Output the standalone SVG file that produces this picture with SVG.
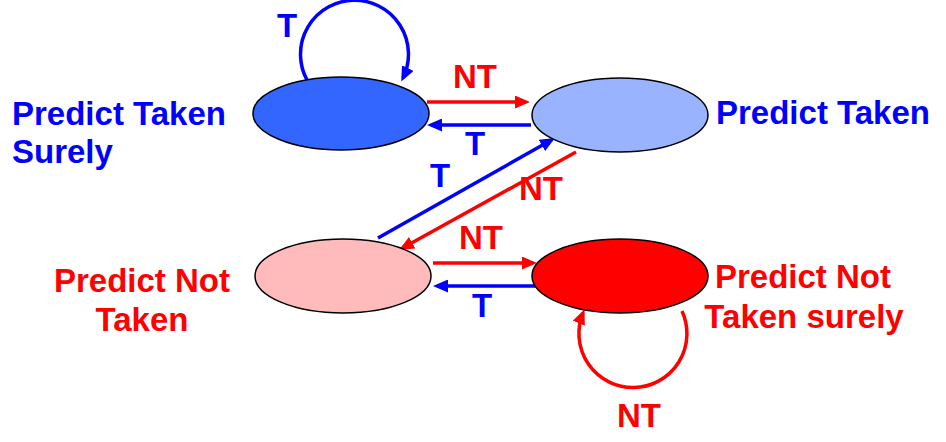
<svg xmlns="http://www.w3.org/2000/svg" width="946" height="442" viewBox="0 0 946 442">
<style>
  text { font-family: "Liberation Sans", Arial, sans-serif; font-weight: bold; font-size: 33px; }
  .blue { fill: #0000FF; }
  .red { fill: #FF0000; }
  .node { stroke: #000000; stroke-width: 1.5; }
  .eb { fill: none; stroke: #0000FF; stroke-width: 3.5; }
  .er { fill: none; stroke: #FF0000; stroke-width: 3.5; }
  .mid { text-anchor: middle; }
</style>
<defs>
  <marker id="ab" markerUnits="userSpaceOnUse" markerWidth="15" markerHeight="13" viewBox="0 0 15 13" refX="11" refY="6.5" orient="auto">
    <path d="M0,0 L15,6.5 L0,13 z" fill="#0000FF"/>
  </marker>
  <marker id="ar" markerUnits="userSpaceOnUse" markerWidth="15" markerHeight="13" viewBox="0 0 15 13" refX="11" refY="6.5" orient="auto">
    <path d="M0,0 L15,6.5 L0,13 z" fill="#FF0000"/>
  </marker>
</defs>
<rect width="946" height="442" fill="#FFFFFF"/>

<g id="connectors">
  <path class="eb" d="M307,80 A54,54 0 1 1 403,78" marker-end="url(#ab)"/>
  <text class="blue mid" x="287" y="37">T</text>

  <path class="er" d="M427,102 H526" marker-end="url(#ar)"/>
  <text class="red mid" x="475" y="88">NT</text>
  <path class="eb" d="M531,125 H431" marker-end="url(#ab)"/>
  <text class="blue mid" x="475" y="155">T</text>

  <path class="eb" d="M378,238 L551.5,140" marker-end="url(#ab)"/>
  <text class="blue mid" x="440" y="187">T</text>
  <path class="er" d="M576,152 L402.5,248" marker-end="url(#ar)"/>
  <text class="red mid" x="541" y="200">NT</text>

  <path class="er" d="M433,263 H533" marker-end="url(#ar)"/>
  <text class="red mid" x="481" y="249">NT</text>
  <path class="eb" d="M537,286 H437" marker-end="url(#ab)"/>
  <text class="blue mid" x="482" y="317">T</text>

  <path class="er" d="M682,311 A54,54 0 1 1 583,313" marker-end="url(#ar)"/>
  <text class="red mid" x="639" y="427">NT</text>
</g>

<g id="node-predict-taken-surely">
  <ellipse class="node" cx="341" cy="113.5" rx="88" ry="36.5" fill="#3366FF"/>
  <text class="blue" x="12" y="125">Predict Taken</text>
  <text class="blue" x="12" y="163">Surely</text>
</g>

<g id="node-predict-taken">
  <ellipse class="node" cx="620" cy="115" rx="88" ry="37" fill="#99B3FF"/>
  <text class="blue" x="716" y="124">Predict Taken</text>
</g>

<g id="node-predict-not-taken">
  <ellipse class="node" cx="343" cy="276" rx="88" ry="37" fill="#FFBBBB"/>
  <text class="red mid" x="142" y="292">Predict Not</text>
  <text class="red mid" x="142" y="331">Taken</text>
</g>

<g id="node-predict-not-taken-surely">
  <ellipse class="node" cx="620" cy="276" rx="88" ry="37" fill="#FF0000"/>
  <text class="red mid" x="803" y="288">Predict Not</text>
  <text class="red mid" x="804" y="328">Taken surely</text>
</g>
</svg>
